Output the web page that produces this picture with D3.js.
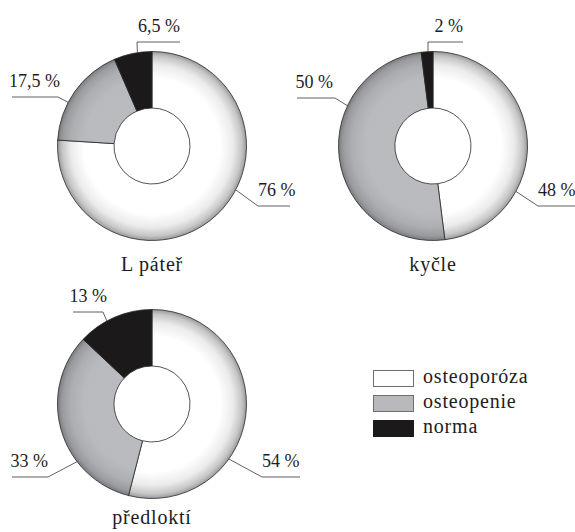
<!DOCTYPE html>
<html>
<head>
<meta charset="utf-8">
<script src="https://cdn.jsdelivr.net/npm/d3@7"></script>
<style>
  html, body { margin: 0; padding: 0; background: #fff; }
  svg { display: block; }
</style>
</head>
<body>
<svg id="chart" width="575" height="532"></svg>
<script>
// Category names (legend order = slice order, clockwise from 12 o'clock)
const categories = ["osteoporóza", "osteopenie", "norma"];
// Measurement sites
const sites = ["L páteř", "kyčle", "předloktí"];
// Percent shares per site, in category order
const lPater = [76, 17.5, 6.5];
const kycle = [48, 50, 2];
const predlokti = [54, 33, 13];
const siteValues = [lPater, kycle, predlokti];

const FONT = '"Liberation Serif", "Times New Roman", Tinos, Times';

// Layout: centre of each donut
const centres = [[152, 146], [433, 146], [152, 404]];
// Leader layout per slice: t = position along the slice's arc,
// ex/ey = elbow offset from centre, hx = horizontal end offset from centre,
// tx/anchor = label placement
const leaders = [
  [ {t: 0.43, ex: 106, ey: 60, hx: 138, tx: 106, anchor: "start"},
    {t: 0.38, ex: -94, ey: -49, hx: -140, tx: -92, anchor: "end"},
    {t: 0.62, ex: -15, ey: -104, hx: 28, tx: 28, anchor: "end"} ],
  [ {t: 0.687, ex: 105, ey: 60, hx: 142, tx: 105, anchor: "start"},
    {t: 0.68, ex: -98, ey: -48, hx: -136, tx: -100, anchor: "end"},
    {t: 0.58, ex: -5, ey: -104, hx: 30, tx: 30, anchor: "end"} ],
  [ {t: 0.646, ex: 110, ey: 73, hx: 148, tx: 110, anchor: "start"},
    {t: 0.32, ex: -104, ey: 73, hx: -140, tx: -104, anchor: "end"},
    {t: 0.39, ex: -49, ey: -92, hx: -79, tx: -45, anchor: "end"} ]
];

const R = 94.5, r0 = 38;
const svg = d3.select("#chart");
const defs = svg.append("defs");

// Shading ramps for each category: flat inside, darkening toward the rim
const shades = [
  [[0, "#ffffff"], [0.72, "#ffffff"], [0.86, "#ebebeb"], [0.95, "#c6c6c6"], [1, "#9a9a9a"]],
  [[0, "#bbbcbf"], [0.72, "#b9babd"], [0.86, "#adaeb1"], [0.95, "#9a9b9e"], [1, "#7b7c7f"]],
  [[0, "#1c191a"], [1, "#1c191a"]]
];
shades.forEach((stops, i) => {
  const g = defs.append("radialGradient")
    .attr("id", "shade" + i)
    .attr("gradientUnits", "userSpaceOnUse")
    .attr("cx", 0).attr("cy", 0).attr("r", R);
  stops.forEach(s => g.append("stop").attr("offset", s[0]).attr("stop-color", s[1]));
});

const pie = d3.pie().sort(null).value(d => d);
const arc = d3.arc().innerRadius(r0).outerRadius(R);
const fmt = v => String(v).replace(".", ",") + " %";

siteValues.forEach((vals, k) => {
  const [cx, cy] = centres[k];
  const g = svg.append("g").attr("transform", `translate(${cx},${cy})`);
  const arcs = pie(vals);

  g.selectAll("path.slice")
    .data(arcs)
    .join("path")
    .attr("class", "slice")
    .attr("d", arc)
    .attr("fill", (d, i) => `url(#shade${i})`)
    .attr("stroke", "#2a2728")
    .attr("stroke-width", 0.8);

  // leader lines and value labels
  arcs.forEach((d, i) => {
    const L = leaders[k][i];
    const a = d.startAngle + L.t * (d.endAngle - d.startAngle);
    const ax = Math.sin(a) * R, ay = -Math.cos(a) * R;
    g.append("path")
      .attr("d", d3.line()([[ax, ay], [L.ex, L.ey], [L.hx, L.ey]]))
      .attr("fill", "none")
      .attr("stroke", "#3a3738")
      .attr("stroke-width", 0.8);
    g.append("text")
      .attr("class", "lbl")
      .attr("x", L.tx)
      .attr("y", L.ey - 10)
      .attr("text-anchor", L.anchor)
      .style("font-size", "18px")
      .text(fmt(d.data));
  });

  g.append("text")
    .attr("class", "ttl")
    .attr("x", 0)
    .attr("y", k < 2 ? 125 : 120)
    .attr("text-anchor", "middle")
    .style("font-size", "20px")
    .style("letter-spacing", "0.8px")
    .text(sites[k]);
});

// legend
const legend = svg.append("g").attr("transform", "translate(373,370)");
const legendFill = ["#ffffff", "#b8b9bc", "#1c191a"];
const legendStroke = ["#6e6e6e", "#6e6e6e", "#1c191a"];
categories.forEach((c, i) => {
  const row = legend.append("g").attr("transform", `translate(0,${i * 25})`);
  row.append("rect")
    .attr("x", 0.5).attr("y", 0.5)
    .attr("width", 40).attr("height", 16)
    .attr("fill", legendFill[i])
    .attr("stroke", legendStroke[i])
    .attr("stroke-width", 1);
  row.append("text")
    .attr("x", 50).attr("y", 13)
    .style("font-size", "20px")
    .style("letter-spacing", "0.8px")
    .text(c);
});

svg.selectAll("text")
  .style("font-family", FONT)
  .style("fill", "#1e1b1c");
</script>
</body>
</html>
